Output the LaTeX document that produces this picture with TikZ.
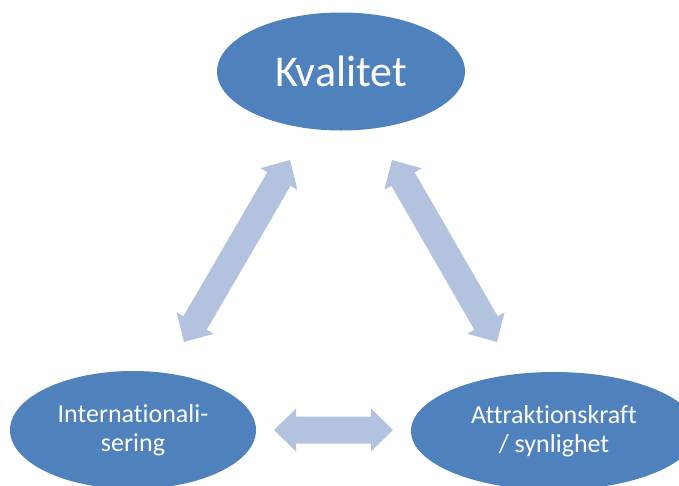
\documentclass[tikz,border=0pt]{standalone}
\usepackage{fontspec}
\setmainfont{Carlito}[Ligatures={NoCommon,NoContextual}]
\usetikzlibrary{shapes.geometric,calc}
\definecolor{ellblue}{HTML}{4F81BD}
\definecolor{arrblue}{HTML}{B3C3DF}
\tikzset{
  ellnode/.style={ellipse, fill=ellblue, draw=none, text=white, inner sep=0pt, align=center},
  arrowfill/.style={fill=arrblue, draw=none}
}
\newcommand\blockarrow[2]{%
  \coordinate (b1) at ($(#1)!22pt!(#2)$);
  \coordinate (b2) at ($(#2)!22pt!(#1)$);
  \fill[arrowfill] (#1) -- ($(b1)!21.5pt!90:(#2)$) -- ($(b1)!13.5pt!90:(#2)$)
    -- ($(b2)!13.5pt!-90:(#1)$) -- ($(b2)!21.5pt!-90:(#1)$) -- (#2)
    -- ($(b2)!21.5pt!90:(#1)$) -- ($(b2)!13.5pt!90:(#1)$)
    -- ($(b1)!13.5pt!-90:(#2)$) -- ($(b1)!21.5pt!-90:(#2)$) -- cycle;}
\begin{document}
\begin{tikzpicture}[x=1pt,y=-1pt]
\useasboundingbox (0,0) rectangle (679,485);
\clip (0,0) rectangle (679,485);
\node[ellnode, minimum width=248pt, minimum height=118pt, font=\fontsize{44}{50}\selectfont] (top) at (341,71.5) {Kvalitet};
\node[ellnode, minimum width=246pt, minimum height=118pt, font=\fontsize{26}{28.6}\selectfont] (left) at (133,430) {Internationali-\\sering};
\node[ellnode, minimum width=286pt, minimum height=118pt, font=\fontsize{26}{28.6}\selectfont] (right) at (554,431) {Attraktionskraft\\/ synlighet};
\coordinate (l1) at (184,342);
\coordinate (l2) at (290,160);
\coordinate (r1) at (392,160);
\coordinate (r2) at (497,342);
\coordinate (h1) at (274,430);
\coordinate (h2) at (393,430);
\blockarrow{l1}{l2}
\blockarrow{r1}{r2}
\blockarrow{h1}{h2}
\end{tikzpicture}
\end{document}
